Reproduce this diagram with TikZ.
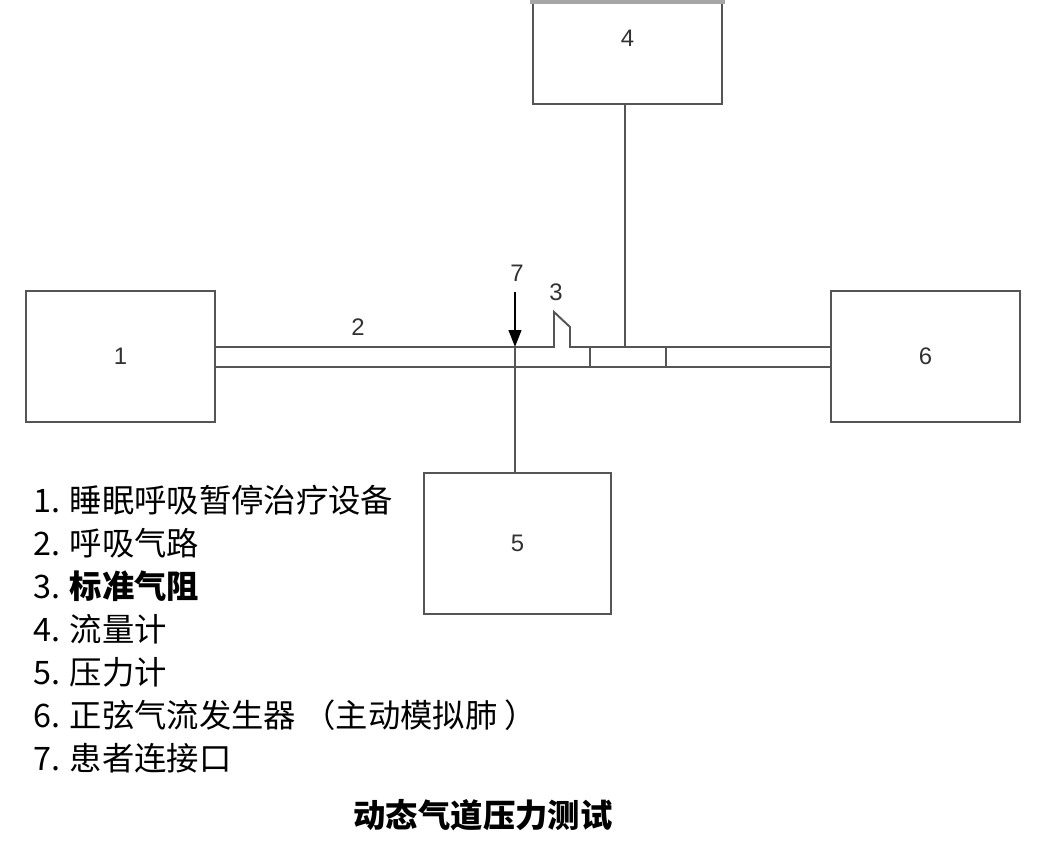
\documentclass[tikz,border=0pt]{standalone}
\usepackage{fontspec}
\setmainfont{Liberation Sans}
\newfontfamily\cjk{Noto Sans CJK SC}
\usetikzlibrary{arrows.meta}
\definecolor{linegray}{RGB}{85,85,85}
\definecolor{textgray}{RGB}{50,50,50}
\begin{document}
\begin{tikzpicture}[x=0.025cm, y=-0.025cm,
  box/.style={draw=linegray, line width=1.4pt, minimum width=4.7cm, minimum height=3.275cm, text=textgray, font=\fontsize{17}{17}\selectfont},
  tag/.style={text=textgray, font=\fontsize{17}{17}\selectfont},
  item/.style={anchor=west, inner sep=0pt, font=\cjk\fontsize{23}{23}\selectfont},
  tube/.style={draw=linegray, line width=1.4pt}]
\clip (0,0) rectangle (1060,850);

% devices
\node[box] (cpap) at (120.5,356.5) {1};
\node[box] (lung) at (925.5,356.5) {6};
\node[box] (flow) at (627.5,38) {4};
\node[box, minimum width=4.675cm, minimum height=3.525cm] (gauge) at (517.5,543.5) {5};
\draw[gray!70, line width=3pt] (530,2) -- (725,2);

% airway
\coordinate (top) at (0,347);
\coordinate (bot) at (0,367);
\coordinate (port) at (515,347);
\coordinate (resL) at (554,347);
\coordinate (resR) at (570,347);
\coordinate (in7) at (515,292);
\draw[tube] (cpap.east |- top) -- (port) -- (resL) -- (554,312) -- (570,327) -- (resR) -- (lung.west |- top);
\draw[tube] (cpap.east |- bot) -- (lung.west |- bot);
\draw[tube] (590,347) -- (590,367);
\draw[tube] (666,347) -- (666,367);
\draw[tube] (flow.south -| 625,0) -- (625,347);
\draw[tube, -{Triangle[length=12pt, width=9pt]}, black] (in7) -- (port);
\draw[tube] (port) -- (port |- gauge.north);

\node[tag] (n2) at (358,327) {2};
\node[tag] (n7) at (517,273) {7};
\node[tag] (n3) at (556,292) {3};

% legend
\node[item] (l1) at (33,500) {1. 睡眠呼吸暂停治疗设备};
\node[item] (l2) at (33,543) {2. 呼吸气路};
\node[item] (l3) at (33,586) {3. \bfseries 标准气阻};
\node[item] (l4) at (33,629) {4. 流量计};
\node[item] (l5) at (33,672) {5. 压力计};
\node[item] (l6) at (33,715) {6. 正弦气流发生器 （主动模拟肺 ）};
\node[item] (l7) at (33,758) {7. 患者连接口};
\node[font=\cjk\bfseries\fontsize{23}{23}\selectfont] (title) at (483,815) {动态气道压力测试};
\end{tikzpicture}
\end{document}
